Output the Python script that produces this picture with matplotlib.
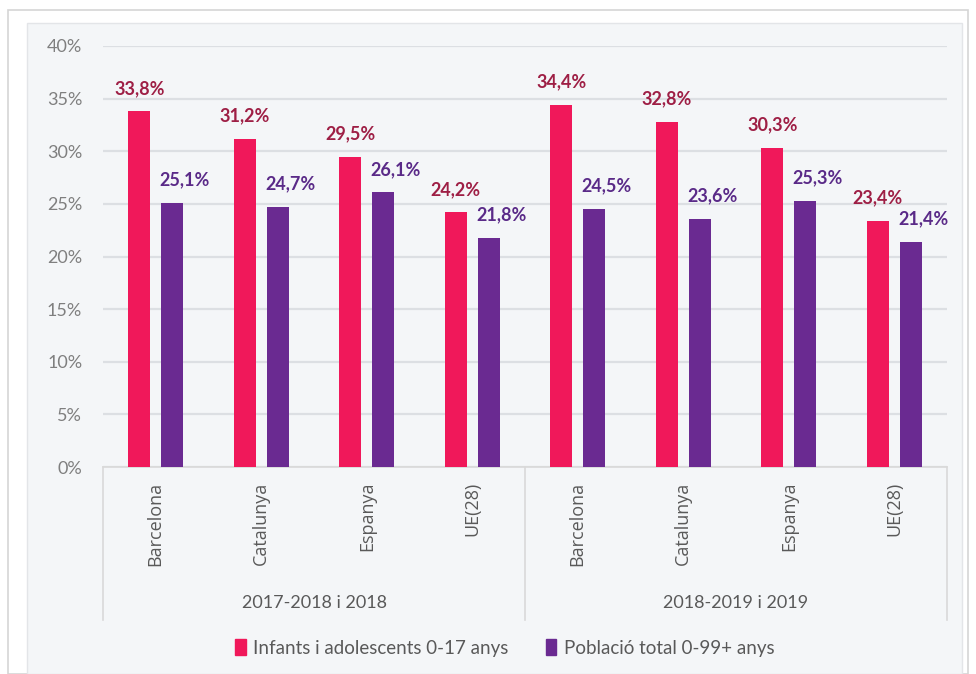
import matplotlib
matplotlib.use("Agg")
import matplotlib.pyplot as plt
from matplotlib.patches import Patch, Rectangle
from matplotlib.lines import Line2D
import numpy as np

plt.rcParams['font.family'] = ['Lato', 'DejaVu Sans']

categories = ["Barcelona", "Catalunya", "Espanya", "UE(28)",
              "Barcelona", "Catalunya", "Espanya", "UE(28)"]
groups = ["2017-2018 i 2018", "2018-2019 i 2019"]
infants = [33.8, 31.2, 29.5, 24.2, 34.4, 32.8, 30.3, 23.4]
total = [25.1, 24.7, 26.1, 21.8, 24.5, 23.6, 25.3, 21.4]
series_names = ["Infants i adolescents 0-17 anys", "Població total 0-99+ anys"]
yticks = [0, 5, 10, 15, 20, 25, 30, 35, 40]

W, H = 976, 674
fig = plt.figure(figsize=(W / 100, H / 100), dpi=100)
fig.patch.set_facecolor("white")

def fx(px):
    return px / W

def fy(py):
    return 1 - py / H

# outer frame and inner panel
fig.patches.append(Rectangle((fx(8), 0), fx(968) - fx(8), fy(10), transform=fig.transFigure,
                             facecolor="white", edgecolor="#d5d5d5", linewidth=1.2, zorder=-3))
fig.patches.append(Rectangle((fx(27), 0), fx(962) - fx(27), fy(20) - 0.004, transform=fig.transFigure,
                             facecolor="#f4f6f8", edgecolor="#e3e5e8", linewidth=1.0, zorder=-2))

ax_left, ax_right = 103, 947
ax_top, ax_bot = 46, 467
ax = fig.add_axes([fx(ax_left), fy(ax_bot), fx(ax_right) - fx(ax_left), fy(ax_top) - fy(ax_bot)])
ax.set_facecolor("none")

pink = "#f0185a"
purple = "#6a2a91"
pink_txt = "#9e1f45"
purple_txt = "#5a2a88"

x = np.arange(len(categories))
bw = 0.21
off = 0.155
b1 = ax.bar(x - off, infants, bw, color=pink, zorder=3)
b2 = ax.bar(x + off, total, bw, color=purple, zorder=3)

for xi, v in zip(x, infants):
    ax.annotate(f"{v:.1f}%".replace(".", ","), (xi - off, v), xytext=(0, 16.5),
                textcoords="offset points", ha="center", va="center",
                fontsize=13, fontweight="bold", color=pink_txt, zorder=4)
for xi, v in zip(x, total):
    ax.annotate(f"{v:.1f}%".replace(".", ","), (xi + off, v), xytext=(9, 16.5),
                textcoords="offset points", ha="center", va="center",
                fontsize=13, fontweight="bold", color=purple_txt, zorder=4)

ax.set_xlim(-0.5, len(categories) - 0.5)
ax.set_ylim(0, 40)
ax.set_yticks(yticks)
ax.set_yticklabels([f"{t}%" for t in yticks], fontsize=13, color="#7f7f7f")
ax.tick_params(axis="y", length=0, pad=15)
ax.yaxis.grid(True, color="#dcdfe3", linewidth=1.6, zorder=0)
ax.set_xticks([])
for s in ["top", "right", "left"]:
    ax.spines[s].set_visible(False)
ax.spines["bottom"].set_color("#d9d9d9")
ax.spines["bottom"].set_linewidth(1.2)

# category labels
trans = ax.get_xaxis_transform()
for xi, c in zip(x, categories):
    ax.text(xi, -0.035, c, rotation=90, ha="center", va="top", transform=trans,
            fontsize=13, color="#595959", fontfamily=['Open Sans', 'DejaVu Sans'])

# separators and group labels
n_per = 4
sep_y_bottom = -(620 - ax_bot) / (ax_bot - ax_top)
for b in [-0.5, 3.5, 7.5]:
    ax.add_line(Line2D([b, b], [0, sep_y_bottom], transform=trans, color="#d9d9d9",
                       linewidth=1.2, clip_on=False))
grp_y = -(603 - ax_bot) / (ax_bot - ax_top)
for gi, g in enumerate(groups):
    ax.text(gi * n_per + 1.5, grp_y, g, ha="center", va="center", transform=trans,
            fontsize=13, color="#595959")

handles = [Patch(facecolor=pink, edgecolor=pink), Patch(facecolor=purple, edgecolor=purple)]
leg = fig.legend(handles, series_names, loc="center", bbox_to_anchor=(fx(505), fy(648)),
                 ncol=2, frameon=False, fontsize=13.5, handlelength=0.55, handleheight=0.9,
                 handletextpad=0.4, columnspacing=2.0)
for t in leg.get_texts():
    t.set_color("#595959")

fig.savefig("out.png", dpi=100, facecolor=fig.get_facecolor())
